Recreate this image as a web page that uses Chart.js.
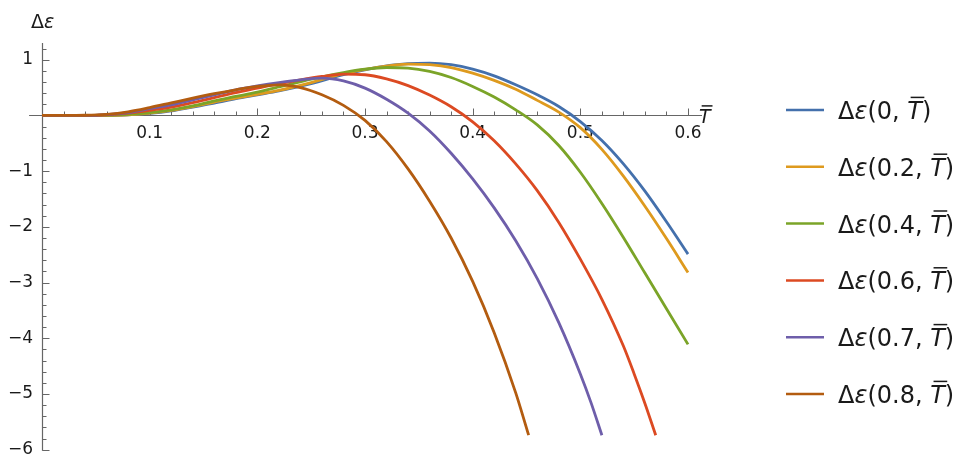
<!DOCTYPE html>
<html>
<head>
<meta charset="utf-8">
<script src="https://cdn.jsdelivr.net/npm/chart.js@4"></script>
<style>
  html, body { margin: 0; padding: 0; background: #fff; }
  #wrap { position: relative; width: 971px; height: 470px; }
</style>
</head>
<body>
<div id="wrap"><canvas id="chart" width="971" height="470"></canvas></div>
<script>
// Series values (T-bar on x, delta epsilon on y)
const seriesLabels = ['0', '0.2', '0.4', '0.6', '0.7', '0.8'];
const seriesColors = ['#4470AC', '#DE9A1E', '#7BA428', '#DC4A22', '#6E5EAA', '#B35C10'];

const xs0 = [0, 0.02, 0.04, 0.06, 0.08, 0.1, 0.12, 0.14, 0.16, 0.18, 0.2, 0.22, 0.25, 0.28, 0.31, 0.34, 0.36, 0.38, 0.40, 0.42, 0.44, 0.46, 0.48, 0.50, 0.52, 0.54, 0.56, 0.58, 0.60];
const ys0 = [0, 0, 0, 0.002, 0.012, 0.035, 0.08, 0.15, 0.22, 0.30, 0.37, 0.44, 0.57, 0.73, 0.86, 0.93, 0.94, 0.91, 0.83, 0.71, 0.55, 0.37, 0.16, -0.11, -0.45, -0.87, -1.36, -1.91, -2.49];

const xs02 = [0, 0.02, 0.04, 0.06, 0.08, 0.1, 0.12, 0.14, 0.16, 0.18, 0.2, 0.22, 0.25, 0.28, 0.31, 0.34, 0.36, 0.38, 0.40, 0.42, 0.44, 0.46, 0.48, 0.50, 0.52, 0.54, 0.56, 0.58, 0.60];
const ys02 = [0, 0, 0, 0.002, 0.012, 0.04, 0.09, 0.16, 0.24, 0.31, 0.38, 0.45, 0.59, 0.75, 0.86, 0.92, 0.91, 0.86, 0.76, 0.63, 0.47, 0.27, 0.06, -0.22, -0.61, -1.09, -1.63, -2.21, -2.82];

const xs04 = [0, 0.02, 0.04, 0.06, 0.08, 0.1, 0.12, 0.14, 0.16, 0.18, 0.2, 0.22, 0.25, 0.28, 0.30, 0.32, 0.34, 0.36, 0.38, 0.40, 0.42, 0.44, 0.46, 0.48, 0.50, 0.52, 0.54, 0.56, 0.58, 0.60];
const ys04 = [0, 0, 0, 0.005, 0.02, 0.05, 0.10, 0.17, 0.26, 0.34, 0.42, 0.51, 0.65, 0.77, 0.83, 0.86, 0.85, 0.79, 0.68, 0.52, 0.33, 0.10, -0.17, -0.54, -1.02, -1.58, -2.19, -2.83, -3.47, -4.11];

const xs06 = [0, 0.02, 0.04, 0.06, 0.08, 0.1, 0.12, 0.14, 0.16, 0.18, 0.2, 0.22, 0.24, 0.26, 0.28, 0.30, 0.32, 0.34, 0.36, 0.38, 0.40, 0.42, 0.44, 0.46, 0.48, 0.50, 0.52, 0.54, 0.55, 0.56, 0.57];
const ys06 = [0, 0, 0, 0.01, 0.04, 0.09, 0.15, 0.23, 0.32, 0.41, 0.49, 0.57, 0.64, 0.70, 0.74, 0.73, 0.655, 0.535, 0.365, 0.155, -0.115, -0.455, -0.87, -1.35, -1.92, -2.58, -3.30, -4.14, -4.64, -5.17, -5.74];

const xs07 = [0, 0.02, 0.04, 0.06, 0.08, 0.1, 0.12, 0.14, 0.16, 0.18, 0.2, 0.22, 0.24, 0.26, 0.28, 0.30, 0.32, 0.34, 0.36, 0.38, 0.40, 0.42, 0.44, 0.46, 0.48, 0.50, 0.51, 0.52];
const ys07 = [0, 0, 0, 0.015, 0.05, 0.12, 0.19, 0.28, 0.37, 0.46, 0.53, 0.59, 0.64, 0.67, 0.62, 0.49, 0.29, 0.04, -0.28, -0.68, -1.14, -1.66, -2.25, -2.93, -3.72, -4.64, -5.16, -5.74];

const xs08 = [0, 0.02, 0.04, 0.06, 0.08, 0.1, 0.12, 0.14, 0.16, 0.18, 0.2, 0.22, 0.24, 0.26, 0.28, 0.30, 0.32, 0.34, 0.36, 0.38, 0.40, 0.42, 0.44, 0.452];
const ys08 = [0, 0, 0.003, 0.02, 0.065, 0.14, 0.225, 0.31, 0.39, 0.46, 0.52, 0.55, 0.50, 0.37, 0.18, -0.09, -0.47, -0.96, -1.54, -2.20, -2.98, -3.90, -4.98, -5.74];

const seriesX = [xs0, xs02, xs04, xs06, xs07, xs08];
const seriesY = [ys0, ys02, ys04, ys06, ys07, ys08];

// axis ranges and ticks
const xMin = 0, xMax = 0.613;
const xAxisStart = -0.012;
const yMin = -6.02, yMax = 1.3;
const xMinorStep = 0.02, yMinorStep = 0.2;

const FONT = '"DejaVu Sans", "Liberation Sans", sans-serif';
const AXIS_COLOR = '#666';
const TEXT_COLOR = '#1a1a1a';

// draw text pieces, some italic, some with a bar on top
function drawRuns(ctx, runs, x, y, size) {
    let cx = x;
    runs.forEach(r => {
        ctx.font = (r.it ? 'italic ' : '') + size + 'px ' + FONT;
        ctx.fillText(r.t, cx, y);
        const w = ctx.measureText(r.t).width;
        if (r.bar) {
            const top = y - size * 0.9;
            ctx.save();
            ctx.lineWidth = 1.5;
            ctx.strokeStyle = ctx.fillStyle;
            ctx.beginPath();
            ctx.moveTo(cx + size * 0.14, top);
            ctx.lineTo(cx + w + size * 0.1, top);
            ctx.stroke();
            ctx.restore();
        }
        cx += w;
    });
    return cx;
}

function legendRuns(label) {
    return [{t: 'Δ'}, {t: 'ε', it: true}, {t: '(' + label + ', '}, {t: 'T', it: true, bar: true}, {t: ')'}];
}

const mathAxes = {
    id: 'mathAxes',
    beforeDatasetsDraw(chart) {
        const {ctx, scales: {x, y}, chartArea} = chart;
        const x0 = Math.round(x.getPixelForValue(0)) + 0.5;
        const y0 = Math.round(y.getPixelForValue(0)) + 0.5;
        ctx.save();
        ctx.strokeStyle = AXIS_COLOR;
        ctx.lineWidth = 1.2;
        ctx.beginPath();
        ctx.moveTo(x.getPixelForValue(xAxisStart), y0);
        ctx.lineTo(chartArea.right, y0);
        ctx.moveTo(x0, chartArea.top);
        ctx.lineTo(x0, chartArea.bottom);
        ctx.stroke();

        ctx.lineWidth = 1;
        ctx.beginPath();
        for (let i = 1; i * xMinorStep <= xMax; i++) {
            const px = Math.round(x.getPixelForValue(i * xMinorStep)) + 0.5;
            const len = i % 5 === 0 ? 7 : 4;
            ctx.moveTo(px, y0);
            ctx.lineTo(px, y0 - len);
        }
        for (let i = Math.ceil(yMin / yMinorStep); i * yMinorStep <= yMax; i++) {
            if (i === 0) continue;
            const py = Math.round(y.getPixelForValue(i * yMinorStep)) + 0.5;
            const len = i % 5 === 0 ? 7 : 4;
            ctx.moveTo(x0, py);
            ctx.lineTo(x0 + len, py);
        }
        ctx.stroke();
        ctx.restore();
    },
    afterDraw(chart) {
        const {ctx, scales: {x}} = chart;
        ctx.save();
        ctx.fillStyle = TEXT_COLOR;
        ctx.textBaseline = 'alphabetic';
        // axis titles
        drawRuns(ctx, [{t: 'Δ'}, {t: 'ε', it: true}], 31, 28, 19);
        drawRuns(ctx, [{t: 'T', it: true, bar: true}], x.right - 3, 123, 19);

        // legend
        chart.data.datasets.forEach((ds, i) => {
            const ly = 110 + i * 56.8;
            ctx.strokeStyle = ds.borderColor;
            ctx.lineWidth = 2.5;
            ctx.beginPath();
            ctx.moveTo(786, ly);
            ctx.lineTo(824, ly);
            ctx.stroke();
            ctx.fillStyle = TEXT_COLOR;
            drawRuns(ctx, legendRuns(seriesLabels[i]), 838, ly + 9, 24);
        });
        ctx.restore();
    }
};

const datasets = seriesLabels.map((lab, i) => ({
    label: lab,
    data: seriesX[i].map((t, j) => ({x: t, y: seriesY[i][j]})),
    borderColor: seriesColors[i],
    borderWidth: 2.8,
    pointRadius: 0,
    cubicInterpolationMode: 'monotone',
    order: seriesLabels.length - 1 - i,
    fill: false
}));

new Chart(document.getElementById('chart'), {
    type: 'line',
    data: { datasets },
    options: {
        responsive: false,
        animation: false,
        events: [],
        layout: { padding: { left: 0, top: 43, right: 269, bottom: 15 } },
        plugins: { legend: { display: false }, tooltip: { enabled: false } },
        scales: {
            x: {
                type: 'linear',
                position: { y: 0 },
                min: xMin,
                max: xMax,
                grid: { display: false, drawTicks: false },
                border: { display: false },
                ticks: {
                    stepSize: 0.1,
                    includeBounds: false,
                    autoSkip: false,
                    maxRotation: 0,
                    padding: 8,
                    color: TEXT_COLOR,
                    font: { family: FONT, size: 17 },
                    callback: v => Math.abs(v) < 1e-9 ? '' : v.toFixed(1)
                }
            },
            y: {
                type: 'linear',
                position: 'left',
                min: yMin,
                max: yMax,
                afterFit: s => { s.width = 42; },
                grid: { display: false, drawTicks: false },
                border: { display: false },
                ticks: {
                    stepSize: 1,
                    includeBounds: false,
                    autoSkip: false,
                    padding: 9,
                    color: TEXT_COLOR,
                    font: { family: FONT, size: 17 },
                    callback: v => Math.abs(v) < 1e-9 ? '' : (v < 0 ? '\u2212' + Math.abs(v) : String(v))
                }
            }
        }
    },
    plugins: [mathAxes]
});
</script>
</body>
</html>
